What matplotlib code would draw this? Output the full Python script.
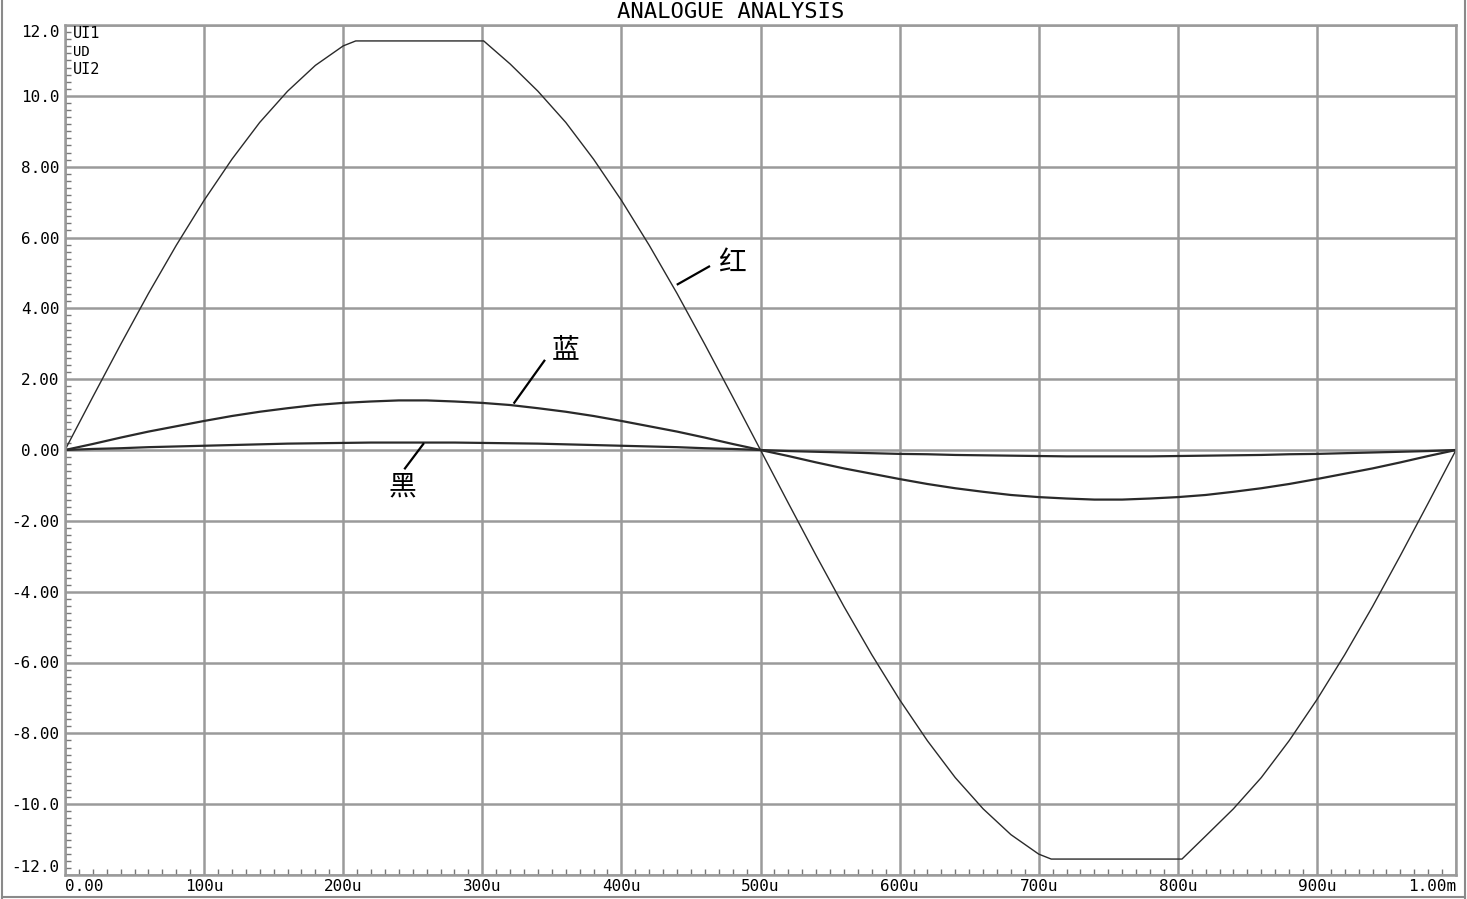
import matplotlib
matplotlib.use("Agg")
import matplotlib.pyplot as plt
from matplotlib.lines import Line2D
from matplotlib.ticker import MultipleLocator

# time axis in microseconds
red_t = [0, 20, 40, 60, 80, 100, 120, 140, 160, 180, 200, 209, 301,
         320, 340, 360, 380, 400, 420, 440, 460, 480, 500,
         520, 540, 560, 580, 600, 620, 640, 660, 680, 700, 709, 803,
         820, 840, 860, 880, 900, 920, 940, 960, 980, 1000]
red_v = [0, 1.50, 2.98, 4.42, 5.78, 7.05, 8.21, 9.25, 10.13, 10.86, 11.41, 11.55, 11.55,
         10.90, 10.13, 9.25, 8.21, 7.05, 5.78, 4.42, 2.98, 1.50, 0,
         -1.50, -2.98, -4.42, -5.78, -7.05, -8.21, -9.25, -10.13, -10.86, -11.41, -11.55, -11.55,
         -10.90, -10.13, -9.25, -8.21, -7.05, -5.78, -4.42, -2.98, -1.50, 0]

t_us = list(range(0, 1001, 20))
blue_v = [0, 0.17, 0.35, 0.52, 0.67, 0.82, 0.96, 1.08, 1.18, 1.27, 1.33, 1.37, 1.40,
          1.40, 1.37, 1.33, 1.27, 1.18, 1.08, 0.96, 0.82, 0.67, 0.52, 0.35, 0.17, 0,
          -0.17, -0.35, -0.52, -0.67, -0.82, -0.96, -1.08, -1.18, -1.27, -1.33, -1.37, -1.40,
          -1.40, -1.37, -1.33, -1.27, -1.18, -1.08, -0.96, -0.82, -0.67, -0.52, -0.35, -0.17, 0]
black_v = [0, 0.03, 0.05, 0.08, 0.10, 0.12, 0.14, 0.16, 0.18, 0.19, 0.20, 0.21, 0.21,
           0.21, 0.21, 0.20, 0.19, 0.18, 0.16, 0.14, 0.12, 0.10, 0.08, 0.05, 0.03, 0,
           -0.03, -0.05, -0.07, -0.09, -0.11, -0.12, -0.14, -0.15, -0.16, -0.17, -0.18, -0.18,
           -0.18, -0.18, -0.17, -0.16, -0.15, -0.14, -0.12, -0.11, -0.09, -0.07, -0.05, -0.03, 0]

x_ticks = [0, 100, 200, 300, 400, 500, 600, 700, 800, 900, 1000]
x_labels = ["0.00", "100u", "200u", "300u", "400u", "500u", "600u", "700u", "800u", "900u", "1.00m"]
y_ticks = [-12, -10, -8, -6, -4, -2, 0, 2, 4, 6, 8, 10, 12]
y_labels = ["-12.0", "-10.0", "-8.00", "-6.00", "-4.00", "-2.00", "0.00",
            "2.00", "4.00", "6.00", "8.00", "10.0", "12.0"]
trace_names = ["UI1", "UD", "UI2"]

W, H = 1467, 899
GRID = "#9a9a9a"
INK = "#2a2a2a"
MONO = "DejaVu Sans Mono"
CJK = ["Noto Sans CJK SC", "DejaVu Sans"]

fig = plt.figure(figsize=(W / 100, H / 100), dpi=100)
ax = fig.add_axes([65 / W, 1 - 875 / H, 1391 / W, 850 / H])

ax.plot(red_t, red_v, color=INK, lw=1.0)
ax.plot(t_us, blue_v, color=INK, lw=1.6)
ax.plot(t_us, black_v, color=INK, lw=1.6)

ax.set_xlim(0, 1000)
ax.set_ylim(-12, 12)
ax.set_xticks(x_ticks, x_labels)
ax.set_yticks(y_ticks, y_labels)
ax.xaxis.set_minor_locator(MultipleLocator(10))
ax.yaxis.set_minor_locator(MultipleLocator(0.2))
ax.tick_params(which="major", length=0, labelsize=11.5, labelfontfamily=MONO, colors="black")
ax.tick_params(axis="y", which="major", pad=4)
ax.tick_params(axis="x", which="major", pad=3)
ax.tick_params(which="minor", direction="in", length=4, width=1, color="#777777")
ax.grid(which="major", color=GRID, lw=1.8)
for sp in ax.spines.values():
    sp.set_color(GRID)
    sp.set_linewidth(1.8)

xl = ax.get_xticklabels()
xl[0].set_ha("left")
xl[-1].set_ha("right")
yl = ax.get_yticklabels()
yl[0].set_va("bottom")
yl[-1].set_va("top")

# trace names in the corner
for i, name in enumerate(trace_names):
    fig.text(73 / W, 1 - (34 + 18 * i) / H, name, ha="left", va="center",
             fontsize=11 if name != "UD" else 10, family=MONO)

fig.text(731 / W, 1 - 12 / H, "ANALOGUE ANALYSIS", ha="center", va="center",
         fontsize=16, family=MONO)

# callouts
ax.plot([440.5, 463], [4.68, 5.18], color="black", lw=1.6)
ax.text(479.3, 5.30, "红", ha="center", va="center", fontsize=20, family=CJK)
ax.plot([323, 344.6], [1.335, 2.52], color="black", lw=1.6)
ax.text(360.2, 2.82, "蓝", ha="center", va="center", fontsize=20, family=CJK)
ax.plot([257.6, 244.4], [0.17, -0.52], color="black", lw=1.6)
ax.text(242.5, -1.04, "黑", ha="center", va="center", fontsize=20, family=CJK)

# outer frame
for xs, ys in [([2 / W, 2 / W], [0, 1]),
               ([1465 / W, 1465 / W], [0, 1]),
               ([2 / W, 1465 / W], [1 - 897 / H, 1 - 897 / H])]:
    fig.add_artist(Line2D(xs, ys, transform=fig.transFigure, color="#8a8a8a", lw=1.5))

fig.savefig("out.png", dpi=100)
